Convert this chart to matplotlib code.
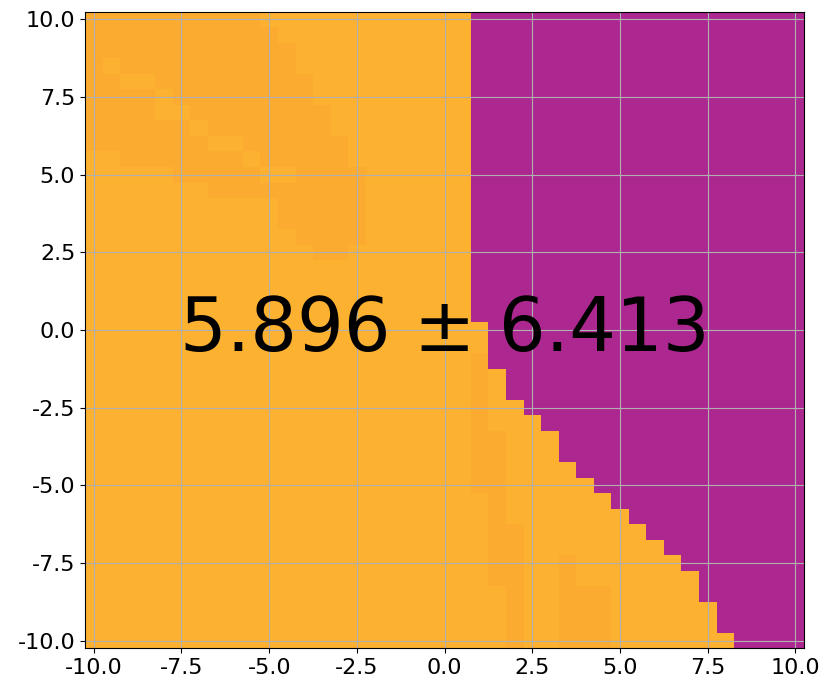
import numpy as np
import matplotlib
matplotlib.use('Agg')
import matplotlib.pyplot as plt
from matplotlib.colors import ListedColormap

# grid cell centres (0.5 step)
x_centers = np.arange(-10, 10.01, 0.5)
y_rows = np.arange(10, -10.01, -0.5)

# first purple cell (x centre) for every row, top row first
purple_start = [
    1.0, 1.0, 1.0, 1.0, 1.0, 1.0, 1.0, 1.0, 1.0, 1.0,
    1.0, 1.0, 1.0, 1.0, 1.0, 1.0, 1.0, 1.0, 1.0, 1.0,
    1.5, 1.5, 1.5, 2.0, 2.0, 2.5, 3.0, 3.5, 3.5, 4.0,
    4.5, 5.0, 5.5, 6.0, 6.5, 7.0, 7.5, 7.5, 8.0, 8.0,
    8.5,
]

# slightly darker orange patches: (row y, x from, x to)
dark_cells = [
    (10.0, -10.0, -5.5), (9.5, -10.0, -5.0), (9.0, -10.0, -4.5),
    (8.5, -10.0, -4.5), (8.0, -10.0, -4.0), (7.5, -10.0, -4.0),
    (7.0, -10.0, -3.5), (6.5, -10.0, -3.5), (6.0, -10.0, -3.0),
    (5.5, -9.0, -3.0), (5.0, -7.5, -2.5), (4.5, -6.5, -2.5),
    (4.0, -4.5, -2.5), (3.5, -4.5, -2.5), (3.0, -4.0, -2.5),
    (2.5, -3.5, -3.0),
    (-1.0, 1.0, 1.0), (-1.5, 1.0, 1.0), (-2.0, 1.0, 1.0),
    (-2.5, 1.0, 1.0), (-3.0, 1.0, 1.0), (-3.5, 1.0, 1.5),
    (-4.0, 1.0, 1.5), (-4.5, 1.0, 1.5), (-5.0, 1.0, 1.5),
    (-5.5, 1.5, 1.5), (-6.0, 1.5, 1.5), (-6.5, 1.5, 2.0),
    (-7.0, 1.5, 2.0), (-7.5, 1.5, 2.0), (-8.0, 1.5, 2.0),
    (-8.5, 2.0, 2.0), (-9.0, 2.0, 2.0), (-9.5, 2.0, 2.0),
    (-10.0, 2.0, 2.0),
    (-7.5, 3.5, 3.5), (-8.0, 3.5, 3.5), (-8.5, 3.5, 4.5),
    (-9.0, 3.5, 4.5), (-9.5, 3.5, 4.5), (-10.0, 3.5, 4.5),
]

# lighter streak inside the dark band: (row y, x)
light_cells = [
    (8.5, -9.5), (8.0, -9.0), (8.0, -8.5), (7.5, -8.0), (7.0, -8.0),
    (7.0, -7.5), (6.5, -7.0), (6.0, -6.5), (6.0, -6.0), (5.5, -5.5),
    (5.0, -5.0), (5.0, -4.5),
]

# cell classes: 0 purple, 1 dark orange, 2 orange
cell_colors = ['#ad2790', '#fbac30', '#fdb130']

Z = np.full((len(y_rows), len(x_centers)), 2)
for i, y in enumerate(y_rows):
    Z[i, x_centers >= purple_start[i] - 1e-9] = 0
for y, x0, x1 in dark_cells:
    i = int(np.argmin(np.abs(y_rows - y)))
    Z[i, (x_centers >= x0 - 1e-9) & (x_centers <= x1 + 1e-9)] = 1
for y, x in light_cells:
    i = int(np.argmin(np.abs(y_rows - y)))
    j = int(np.argmin(np.abs(x_centers - x)))
    Z[i, j] = 2

mean_score = 5.896
std_score = 6.413

fig = plt.figure(figsize=(8.3, 6.9), dpi=100)
ax = fig.add_axes([0.1024, 0.0604, 0.8666, 0.9226])
ax.pcolormesh(x_centers, y_rows, Z, shading='nearest',
              cmap=ListedColormap(cell_colors), vmin=-0.5, vmax=2.5)
ax.set_xlim(-10.25, 10.25)
ax.set_ylim(-10.25, 10.25)
ax.set_xticks(np.arange(-10, 10.01, 2.5))
ax.set_yticks(np.arange(-10, 10.01, 2.5))
ax.xaxis.set_major_formatter(matplotlib.ticker.FormatStrFormatter('%.1f'))
ax.yaxis.set_major_formatter(matplotlib.ticker.FormatStrFormatter('%.1f'))
ax.tick_params(labelsize=16)
ax.grid(True)
ax.text(0, 0, f'{mean_score:.3f} ± {std_score:.3f}', fontsize=53,
        ha='center', va='center')

fig.savefig('out.png', dpi=100)
